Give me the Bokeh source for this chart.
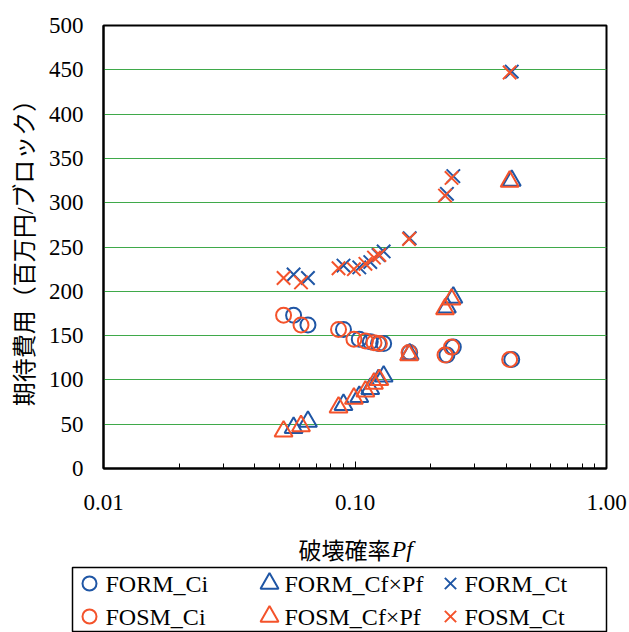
from bokeh.plotting import figure
from bokeh.layouts import column
from bokeh.models import FixedTicker, PrintfTickFormatter, Range1d
from bokeh.core.properties import value
from bokeh.embed import file_html
from bokeh.resources import INLINE

# Failure probability for each design case (FOSM and FORM results)
pf_fosm = [0.052, 0.061, 0.086, 0.099, 0.110, 0.119, 0.125, 0.164, 0.228, 0.242, 0.412]
pf_form = [0.057, 0.065, 0.090, 0.104, 0.115, 0.124, 0.130, 0.165, 0.232, 0.246, 0.420]

# Initial cost Ci (million yen / block)
ci_fosm = [173, 162, 157, 146, 144, 142, 141, 131, 128, 137, 123]
ci_form = [173, 162, 157, 146, 143, 141, 141, 131, 128, 137, 123]

# Expected failure cost Cf x Pf
cfpf_fosm = [42, 48, 69, 79, 87, 96, 100, 128, 180, 191, 324]
cfpf_form = [46, 53, 72, 81, 90, 100, 104, 129, 182, 193, 325]

# Total expected cost Ct
ct_fosm = [215, 210, 226, 225, 231, 238, 241, 259, 308, 328, 447]
ct_form = [219, 215, 229, 227, 233, 241, 245, 260, 310, 330, 448]

y_ticks = [0, 50, 100, 150, 200, 250, 300, 350, 400, 450, 500]
x_ticks = [0.01, 0.1, 1.0]
x_minor = [0.02, 0.03, 0.04, 0.05, 0.06, 0.07, 0.08, 0.09,
           0.2, 0.3, 0.4, 0.5, 0.6, 0.7, 0.8, 0.9]

series_labels = ["FORM_Ci", "FOSM_Ci", "FORM_Cf×Pf", "FOSM_Cf×Pf", "FORM_Ct", "FOSM_Ct"]
x_title = "破壊確率"
x_title_var = "Pf"

BLUE = "#1f56a5"
ORANGE = "#f4532b"
SERIF = "Liberation Serif"
JP = "Noto Sans CJK JP"
MIXED = "'Liberation Serif', 'Noto Sans CJK JP'"

W = 629
H = 632
TOP_H = 520

p = figure(width=W, height=TOP_H, x_axis_type="log",
           x_range=(0.01, 1.0), y_range=(0, 500),
           output_backend="svg", toolbar_location=None, frame_align=False,
           min_border_left=103, min_border_right=23,
           min_border_top=25, min_border_bottom=52)
p.background_fill_color = "white"
p.border_fill_color = "white"
p.outline_line_color = "black"
p.outline_line_width = 2

# axes
p.xaxis.ticker = FixedTicker(ticks=x_ticks, minor_ticks=x_minor)
p.xaxis.formatter = PrintfTickFormatter(format="%.2f")
p.yaxis.ticker = FixedTicker(ticks=y_ticks)
for ax in (p.xaxis[0], p.yaxis[0]):
    ax.axis_line_color = "black"
    ax.axis_line_width = 2
    ax.major_label_text_font = SERIF
    ax.major_label_text_font_size = "23px"
    ax.major_label_text_color = "black"
p.xaxis.major_tick_in = 7
p.xaxis.major_tick_out = 0
p.xaxis.minor_tick_in = 5
p.xaxis.minor_tick_out = 0
p.xaxis.major_tick_line_color = "black"
p.xaxis.minor_tick_line_color = "black"
p.xaxis.major_label_standoff = 26
p.yaxis.major_tick_in = 0
p.yaxis.major_tick_out = 0
p.yaxis.minor_tick_line_color = None
p.yaxis.major_label_standoff = 20

p.yaxis.axis_label = "期待費用（百万円/ブロック）"
p.yaxis.axis_label_text_font = MIXED
p.yaxis.axis_label_text_font_size = "24px"
p.yaxis.axis_label_text_font_style = "normal"
p.yaxis.axis_label_text_color = "black"
p.yaxis.axis_label_standoff = 8

p.xgrid.grid_line_color = None
p.ygrid.grid_line_color = "#3fa94a"
p.ygrid.grid_line_width = 1.2

# data series
p.scatter(pf_form, ci_form, marker="circle", size=15, fill_color=None,
          line_color=BLUE, line_width=2)
p.scatter(pf_fosm, ci_fosm, marker="circle", size=15, fill_color=None,
          line_color=ORANGE, line_width=2)
p.scatter(pf_form, cfpf_form, marker="triangle", size=18, fill_color=None,
          line_color=BLUE, line_width=2)
p.scatter(pf_fosm, cfpf_fosm, marker="triangle", size=18, fill_color=None,
          line_color=ORANGE, line_width=2)
p.scatter(pf_form, ct_form, marker="x", size=19, line_color=BLUE, line_width=2)
p.scatter(pf_fosm, ct_fosm, marker="x", size=19, line_color=ORANGE, line_width=2)

# lower strip: x-axis title and the legend box, in page-pixel units
q = figure(width=W, height=H - TOP_H, x_range=Range1d(0, W),
           y_range=Range1d(H, TOP_H), frame_align=False,
           x_axis_location=None, y_axis_location=None,
           output_backend="svg", toolbar_location=None,
           min_border=0, min_border_left=0, min_border_right=0,
           min_border_top=0, min_border_bottom=0, outline_line_color=None)
q.grid.visible = False
q.background_fill_color = "white"
q.border_fill_color = "white"

q.text(x=[298], y=[548], text=[x_title], text_font=value(JP),
       text_font_size="23px", text_baseline="middle", text_align="left",
       text_color="black")
q.text(x=[391], y=[548], text=[x_title_var], text_font=value(SERIF),
       text_font_size="24px", text_font_style="italic",
       text_baseline="middle", text_align="left", text_color="black")

q.quad(left=[72], right=[606], top=[567], bottom=[631], fill_color="white",
       line_color="black", line_width=1.5)

col_glyph_x = [89, 89, 269, 269, 450, 450]
col_text_x = [105, 105, 284, 284, 464, 464]
row_y = [583, 616, 583, 616, 583, 616]
markers = ["circle", "circle", "triangle", "triangle", "x", "x"]
sizes = [14, 14, 18, 18, 16, 16]
colors = [BLUE, ORANGE, BLUE, ORANGE, BLUE, ORANGE]
for gx, gy, m, s, c in zip(col_glyph_x, row_y, markers, sizes, colors):
    q.scatter([gx], [gy], marker=m, size=s, fill_color=None, line_color=c,
              line_width=2)
q.text(x=col_text_x, y=row_y, text=series_labels, text_font=value(SERIF),
       text_font_size="24px", text_baseline="middle", text_align="left",
       text_color="black")

layout = column(p, q, spacing=0)
open("out.html", "w").write(file_html(layout, INLINE))
